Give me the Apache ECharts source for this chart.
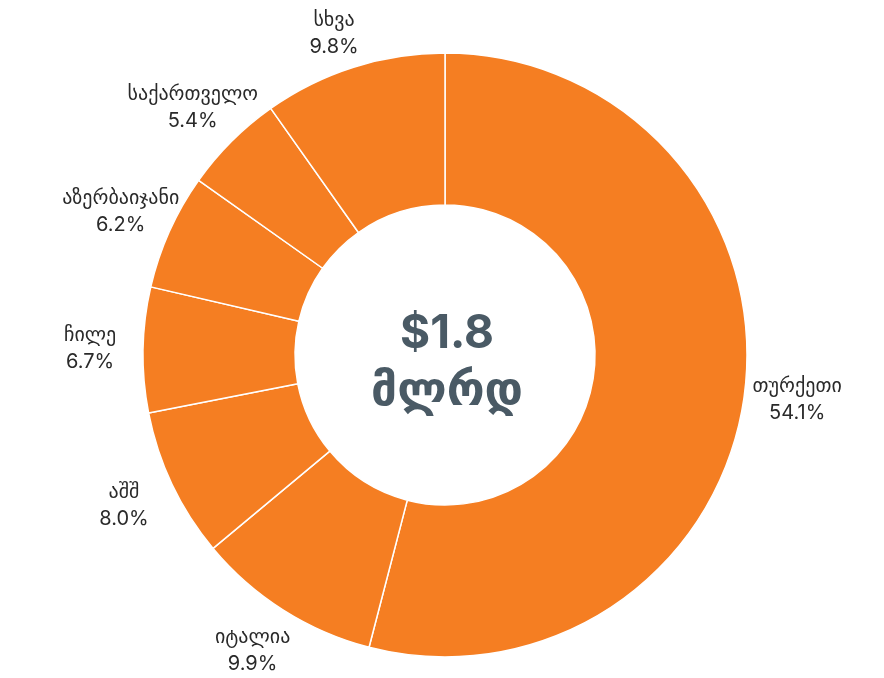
<!DOCTYPE html>
<html>
<head>
<meta charset="utf-8">
<script src="https://cdn.jsdelivr.net/npm/echarts@6/dist/echarts.min.js"></script>
<style>
  html, body { margin: 0; padding: 0; background: #fff; }
  #chart { width: 884px; height: 678px; }
</style>
</head>
<body>
<div id="chart"></div>
<script>
const names = ['თურქეთი', 'იტალია', 'აშშ', 'ჩილე', 'აზერბაიჯანი', 'საქართველო', 'სხვა'];
const shares = [54.1, 9.9, 8.0, 6.7, 6.2, 5.4, 9.8];
const centerTotal = '$1.8';
const centerUnit = 'მლრდ';

const mychart = echarts.init(document.getElementById('chart'));
const option = {
  backgroundColor: '#fff',
  color: ['#F57E22'],
  title: {
    text: centerTotal + '\n' + centerUnit,
    left: 442,
    top: 301,
    textAlign: 'center',
    textStyle: {
      fontFamily: 'Inter, "DejaVu Sans", sans-serif',
      fontSize: 46,
      fontWeight: 'bold',
      color: '#4A5A65',
      lineHeight: 57
    }
  },
  series: [
    {
      type: 'pie',
      center: [445, 355],
      radius: [150, 302],
      startAngle: 90,
      clockwise: true,
      avoidLabelOverlap: false,
      silent: true,
      itemStyle: {
        borderColor: '#fff',
        borderWidth: 1.5
      },
      label: {
        show: true,
        position: 'outside',
        formatter: function (p) {
          return p.name + '\n' + p.value.toFixed(1) + '%';
        },
        fontFamily: 'Inter, "DejaVu Sans", sans-serif',
        fontSize: 20,
        lineHeight: 27,
        color: '#2a2a2a'
      },
      labelLine: {
        show: false,
        length: 48,
        length2: 0
      },
      // centre each label on its anchor and keep it inside the canvas
      labelLayout: function (params) {
        const r = params.labelRect;
        const dy = r.y < 6 ? 6 - r.y : 0;
        return { align: 'center', verticalAlign: 'middle', dy: dy };
      },
      data: names.map(function (n, i) {
        return { name: n, value: shares[i] };
      })
    }
  ]
};
mychart.setOption(option);
</script>
</body>
</html>
